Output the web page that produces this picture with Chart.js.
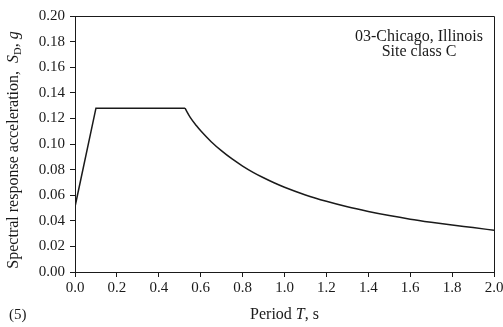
<!DOCTYPE html>
<html>
<head>
<meta charset="utf-8">
<script src="https://cdn.jsdelivr.net/npm/chart.js@4.4.0/dist/chart.umd.min.js"></script>
<style>
html,body{margin:0;padding:0;background:#fff;}
#wrap{position:relative;width:503px;height:327px;}
</style>
</head>
<body>
<div id="wrap"><canvas id="c" width="503" height="327"></canvas></div>
<script>
// Values
// ramp + plateau part
const rampPeriods = [0.0, 0.10, 0.525];
const rampAccel   = [0.051, 0.128, 0.128];
// descending branch
const decayPeriods = [0.525, 0.55, 0.58, 0.60, 0.65, 0.70, 0.75, 0.80, 0.85, 0.90, 0.95, 1.00, 1.10, 1.20, 1.30, 1.40, 1.50, 1.60, 1.70, 1.80, 1.90, 2.00];
const decayAccel   = [0.128, 0.1208, 0.1142, 0.1103, 0.1018, 0.0946, 0.0883, 0.0828, 0.0779, 0.0736, 0.0697, 0.0662, 0.0602, 0.0552, 0.0509, 0.0473, 0.0441, 0.0413, 0.0389, 0.0367, 0.0347, 0.0326];
const xTicks = [0.0, 0.2, 0.4, 0.6, 0.8, 1.0, 1.2, 1.4, 1.6, 1.8, 2.0];
const yTicks = [0.00, 0.02, 0.04, 0.06, 0.08, 0.10, 0.12, 0.14, 0.16, 0.18, 0.20];
const annotationLines = ["03-Chicago, Illinois", "Site class C"];
const panelLabel = "(5)";

const FONT = "'Liberation Serif', 'DejaVu Serif', serif";
const INK = '#1a1a1a';

const framePlugin = {
  id: 'frame',
  afterDatasetsDraw(chart) {
    const {ctx, chartArea: a} = chart;
    ctx.save();
    ctx.strokeStyle = INK;
    ctx.lineWidth = 1;
    ctx.beginPath();
    ctx.moveTo(Math.round(a.left) + 0.5, Math.round(a.top) + 0.5);
    ctx.lineTo(Math.round(a.right) + 0.5, Math.round(a.top) + 0.5);
    ctx.lineTo(Math.round(a.right) + 0.5, Math.round(a.bottom) + 0.5);
    ctx.stroke();
    ctx.restore();
  }
};

const textPlugin = {
  id: 'texts',
  afterDraw(chart) {
    const {ctx, chartArea: a} = chart;
    ctx.save();
    ctx.fillStyle = INK;
    // annotation
    ctx.font = "16px " + FONT;
    ctx.textAlign = 'center';
    ctx.textBaseline = 'middle';
    annotationLines.forEach((t, i) => ctx.fillText(t, 419, 37 + i * 15));

    // x title with italic T
    ctx.textBaseline = 'middle';
    ctx.textAlign = 'left';
    const p1 = "Period ", p2 = "T", p3 = ", s";
    ctx.font = "16px " + FONT;
    const w1 = ctx.measureText(p1).width, w3 = ctx.measureText(p3).width;
    ctx.font = "italic 16px " + FONT;
    const w2 = ctx.measureText(p2).width;
    let x = (a.left + a.right) / 2 - (w1 + w2 + w3) / 2;
    const y = 315;
    ctx.font = "16px " + FONT; ctx.fillText(p1, x, y); x += w1;
    ctx.font = "italic 16px " + FONT; ctx.fillText(p2, x, y); x += w2;
    ctx.font = "16px " + FONT; ctx.fillText(p3, x, y);

    // panel label
    ctx.font = "15px " + FONT;
    ctx.fillText(panelLabel, 9, 315);

    // y title rotated with subscript
    const parts = [
      {t: "Spectral response acceleration,  ", f: "16px " + FONT, dy: 0},
      {t: "S", f: "italic 16px " + FONT, dy: 0},
      {t: "D", f: "10.5px " + FONT, dy: 4},
      {t: ", ", f: "16px " + FONT, dy: 0},
      {t: "g", f: "italic 16px " + FONT, dy: 0}
    ];
    let total = 0;
    parts.forEach(p => { ctx.font = p.f; p.w = ctx.measureText(p.t).width; total += p.w; });
    ctx.translate(14, 150);
    ctx.rotate(-Math.PI / 2);
    let px = -total / 2;
    parts.forEach(p => { ctx.font = p.f; ctx.fillText(p.t, px, p.dy); px += p.w; });
    ctx.restore();
  }
};

new Chart(document.getElementById('c'), {
  type: 'line',
  data: {
    datasets: [{
      data: rampPeriods.map((t, i) => ({x: t, y: rampAccel[i]})),
      borderColor: INK,
      borderWidth: 1.5,
      pointRadius: 0,
      tension: 0,
      fill: false
    }, {
      data: decayPeriods.map((t, i) => ({x: t, y: decayAccel[i]})),
      borderColor: INK,
      borderWidth: 1.5,
      pointRadius: 0,
      cubicInterpolationMode: 'monotone',
      fill: false
    }]
  },
  options: {
    responsive: false,
    animation: false,
    devicePixelRatio: 1,
    layout: {padding: {top: 16, right: 9, left: 0, bottom: 0}},
    plugins: {legend: {display: false}, tooltip: {enabled: false}},
    scales: {
      x: {
        type: 'linear', min: 0, max: 2,
        afterBuildTicks(s) { s.ticks = xTicks.map(v => ({value: v})); },
        afterFit(s) { s.height = 55; s.paddingRight = 0; s.paddingLeft = 0; },
        ticks: {
          callback: v => v.toFixed(1),
          color: INK, font: {family: FONT, size: 15}, padding: 2, maxRotation: 0, autoSkip: false
        },
        grid: {display: true, drawOnChartArea: false, drawTicks: true, tickLength: 5, color: INK, lineWidth: 1},
        border: {display: true, color: INK, width: 1}
      },
      y: {
        type: 'linear', min: 0, max: 0.2,
        afterBuildTicks(s) { s.ticks = yTicks.map(v => ({value: v})); },
        afterFit(s) { s.width = 75; },
        ticks: {
          callback: v => v.toFixed(2),
          color: INK, font: {family: FONT, size: 15}, padding: 5, autoSkip: false
        },
        grid: {display: true, drawOnChartArea: false, drawTicks: true, tickLength: 5, color: INK, lineWidth: 1},
        border: {display: true, color: INK, width: 1}
      }
    }
  },
  plugins: [framePlugin, textPlugin]
});
</script>
</body>
</html>
